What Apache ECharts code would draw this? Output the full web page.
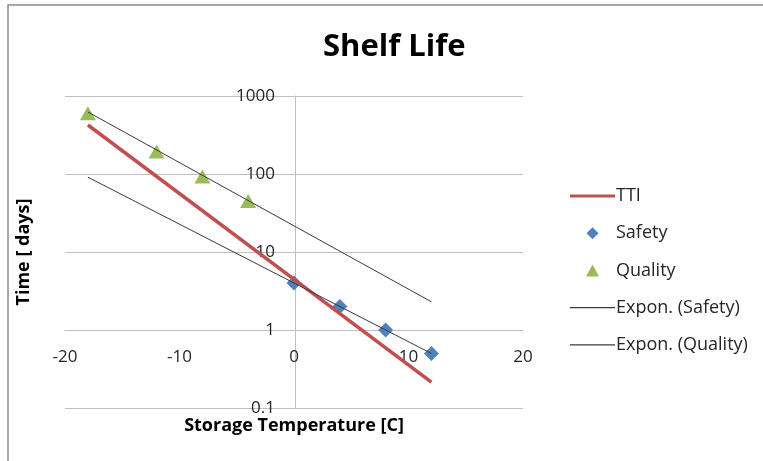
<!DOCTYPE html>
<html>
<head>
<meta charset="utf-8">
<script src="https://cdn.jsdelivr.net/npm/echarts@6/dist/echarts.min.js"></script>
<style>
html,body{margin:0;padding:0;background:#fff;}
#chart{width:763px;height:461px;}
</style>
</head>
<body>
<div id="chart"></div>
<script>
// ---- data ----
const ttiTemps = [-18, 12];
const ttiValues = [425, 0.215];
const safetyTemps = [0, 4, 8, 12];
const safetyValues = [4, 2, 1, 0.5];
const qualityTemps = [-18, -12, -8, -4];
const qualityValues = [600, 195, 93, 45];
const trendTemps = [-18, 12];
const trendSafetyValues = [91, 0.5];
const trendQualityValues = [624, 2.3];
const xTicks = [-20, -10, 0, 10, 20];
const yTicks = [0.1, 1, 10, 100, 1000];
const seriesNames = ['TTI', 'Safety', 'Quality', 'Expon. (Safety)', 'Expon. (Quality)'];

const zip = (xs, ys) => xs.map((x, i) => [x, ys[i]]);
const FONT = '"Open Sans", "DejaVu Sans", sans-serif';
const RED = '#C0504D', BLUE = '#4F81BD', GREEN = '#9BBB59', DARK = '#3a3a3a';

const legendIcons = [
  {icon: 'path://M0,0H45V3H0Z', color: RED},
  {icon: 'path://M6,0L12,6L6,12L0,6Z', color: BLUE},
  {icon: 'path://M6,0L12,11L0,11Z', color: GREEN},
  {icon: 'path://M0,0H45V1.2H0Z', color: DARK},
  {icon: 'path://M0,0H45V1.2H0Z', color: DARK}
];

const chart = echarts.init(document.getElementById('chart'), null, {renderer: 'canvas'});
chart.setOption({
  animation: false,
  backgroundColor: '#ffffff',
  title: {
    text: 'Shelf Life',
    left: 318,
    top: 27,
    textStyle: {fontFamily: FONT, fontWeight: 'bold', fontSize: 31, color: '#000'}
  },
  graphic: [{
    type: 'rect',
    shape: {x: 8, y: 5, width: 800, height: 500},
    style: {fill: 'none', stroke: '#8c8c8c', lineWidth: 1.5},
    silent: true
  }],
  legend: {
    orient: 'vertical',
    left: 565,
    top: 182,
    itemWidth: 45,
    itemHeight: 12,
    itemGap: 19.2,
    symbolKeepAspect: true,
    data: seriesNames.map((n, i) => ({
      name: n,
      icon: legendIcons[i].icon,
      itemStyle: {color: legendIcons[i].color, borderWidth: 0, opacity: 1},
      lineStyle: {width: 0}
    })),
    textStyle: {fontFamily: FONT, fontSize: 18, color: '#262626', padding: [0, 0, 0, -4]}
  },
  grid: {left: 65, right: 240, top: 96, bottom: 53, containLabel: false},
  xAxis: {
    type: 'value',
    min: xTicks[0],
    max: xTicks[xTicks.length - 1],
    interval: 10,
    position: 'bottom',
    offset: -78,
    name: 'Storage Temperature [C]',
    nameLocation: 'middle',
    nameGap: 87,
    nameTextStyle: {fontFamily: FONT, fontWeight: 'bold', fontSize: 18, color: '#000'},
    axisLine: {show: true, lineStyle: {color: '#bfbfbf', width: 1}},
    axisTick: {show: false},
    axisLabel: {fontFamily: FONT, fontSize: 17, color: '#262626', margin: 19},
    splitLine: {show: false}
  },
  yAxis: {
    type: 'log',
    logBase: 10,
    min: yTicks[0],
    max: yTicks[yTicks.length - 1],
    position: 'left',
    offset: -230,
    name: 'Time [ days]',
    nameLocation: 'middle',
    nameGap: 262,
    nameRotate: 90,
    nameTextStyle: {fontFamily: FONT, fontWeight: 'bold', fontSize: 18, color: '#000'},
    axisLine: {show: true, lineStyle: {color: '#bfbfbf', width: 1}},
    axisTick: {show: false},
    axisLabel: {
      fontFamily: FONT, fontSize: 17, color: '#262626', margin: 20,
      formatter: v => String(+v.toPrecision(6))
    },
    splitLine: {show: true, lineStyle: {color: '#bfbfbf', width: 1}}
  },
  series: [
    {
      name: seriesNames[0], type: 'line', data: zip(ttiTemps, ttiValues),
      symbol: 'none', lineStyle: {color: RED, width: 3.5}, itemStyle: {color: RED}
    },
    {
      name: seriesNames[1], type: 'scatter', data: zip(safetyTemps, safetyValues),
      symbol: 'diamond', symbolSize: [15, 15], itemStyle: {color: BLUE, opacity: 1}
    },
    {
      name: seriesNames[2], type: 'scatter', data: zip(qualityTemps, qualityValues),
      symbol: 'triangle', symbolSize: [16, 14], itemStyle: {color: GREEN, opacity: 1}
    },
    {
      name: seriesNames[3], type: 'line', data: zip(trendTemps, trendSafetyValues),
      symbol: 'none', lineStyle: {color: DARK, width: 1}, itemStyle: {color: DARK}
    },
    {
      name: seriesNames[4], type: 'line', data: zip(trendTemps, trendQualityValues),
      symbol: 'none', lineStyle: {color: DARK, width: 1}, itemStyle: {color: DARK}
    }
  ]
});
</script>
</body>
</html>
